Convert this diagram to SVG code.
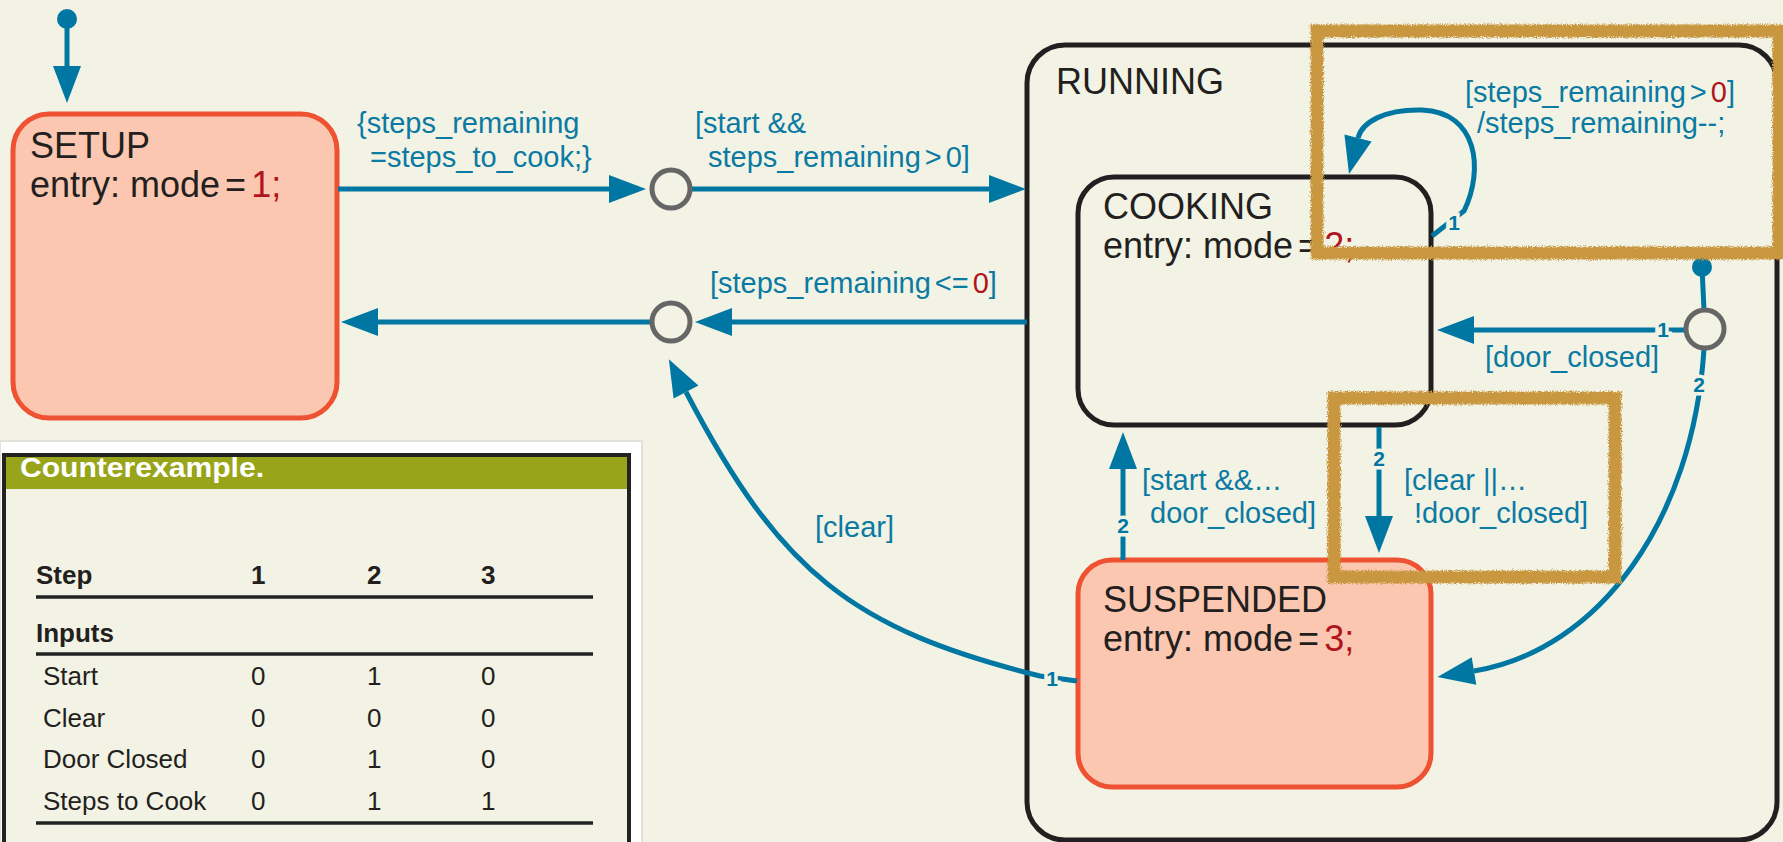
<svg xmlns="http://www.w3.org/2000/svg" width="1783" height="842" viewBox="0 0 1783 842">
<style>
.st{font-family:"Liberation Sans",Arial,sans-serif;font-size:36px;fill:#231f20}
.lb{font-family:"Liberation Sans",Arial,sans-serif;font-size:29px;fill:#0b7aa3}
.red{fill:#b0141c}
.pr{font-family:"Liberation Sans",Arial,sans-serif;font-size:21px;font-weight:bold;fill:#0077a2;stroke:#f2f3e4;stroke-width:7px;paint-order:stroke;text-anchor:middle}
.tr{fill:none;stroke:#0077a2;stroke-width:5}
.jn{fill:#f2f3e4;stroke:#666;stroke-width:5}
.tb{font-family:"Liberation Sans",Arial,sans-serif;font-size:26px;fill:#231f20}
.tbb{font-family:"Liberation Sans",Arial,sans-serif;font-size:26px;font-weight:bold;fill:#231f20}
.hl{fill:none;stroke:#c9973f;stroke-width:13;filter:url(#rough)}
</style>
<defs>
<marker id="ah" markerUnits="userSpaceOnUse" markerWidth="40" markerHeight="30" refX="0" refY="14" orient="auto" overflow="visible"><path d="M0,0 L37,14 L0,28 z" fill="#0077a2"/></marker>
<filter id="rough" x="-5%" y="-5%" width="110%" height="110%"><feTurbulence type="fractalNoise" baseFrequency="0.8" numOctaves="2" seed="3"/><feDisplacementMap in="SourceGraphic" scale="6" xChannelSelector="R" yChannelSelector="G"/></filter>
</defs>
<rect width="1783" height="842" fill="#f2f3e4"/>

<g id="table">
<rect x="0" y="441" width="642" height="410" fill="#ffffff" stroke="#e2e2dc" stroke-width="2"/>
<rect x="4" y="455" width="625" height="400" fill="#f2f3e4" stroke="#222" stroke-width="4"/>
<rect x="6" y="457" width="621" height="32" fill="#98a419"/>
<text x="20" y="477" font-family="Liberation Sans,Arial,sans-serif" font-size="28" font-weight="bold" fill="#fff" textLength="244" lengthAdjust="spacingAndGlyphs">Counterexample.</text>
<text class="tbb" x="36" y="584">Step</text>
<text class="tbb" x="251" y="584">1</text>
<text class="tbb" x="367" y="584">2</text>
<text class="tbb" x="481" y="584">3</text>
<line x1="36" y1="597" x2="593" y2="597" stroke="#222" stroke-width="3.5"/>
<text class="tbb" x="36" y="642">Inputs</text>
<line x1="36" y1="654" x2="593" y2="654" stroke="#222" stroke-width="3.5"/>
<text class="tb" x="43" y="685">Start</text><text class="tb" x="251" y="685">0</text><text class="tb" x="367" y="685">1</text><text class="tb" x="481" y="685">0</text>
<text class="tb" x="43" y="727">Clear</text><text class="tb" x="251" y="727">0</text><text class="tb" x="367" y="727">0</text><text class="tb" x="481" y="727">0</text>
<text class="tb" x="43" y="768">Door Closed</text><text class="tb" x="251" y="768">0</text><text class="tb" x="367" y="768">1</text><text class="tb" x="481" y="768">0</text>
<text class="tb" x="43" y="810">Steps to Cook</text><text class="tb" x="251" y="810">0</text><text class="tb" x="367" y="810">1</text><text class="tb" x="481" y="810">1</text>
<line x1="36" y1="823" x2="593" y2="823" stroke="#222" stroke-width="3.5"/>
</g>

<g id="setup">
<rect x="13" y="114" width="324" height="304" rx="36" fill="#fbc7b0" stroke="#ef5232" stroke-width="5"/>
<text class="st" x="30" y="158">SETUP</text>
<text class="st" x="30" y="197">entry: mode<tspan dx="5">=</tspan><tspan class="red" dx="5">1;</tspan></text>
</g>

<g id="running">
<rect x="1027" y="45" width="750" height="795" rx="38" fill="none" stroke="#231f20" stroke-width="5"/>
<text class="st" x="1056" y="94">RUNNING</text>
</g>

<g id="cooking">
<rect x="1078" y="177" width="353" height="248" rx="36" fill="none" stroke="#231f20" stroke-width="5"/>
<text class="st" x="1103" y="219">COOKING</text>
<text class="st" x="1103" y="258">entry: mode<tspan dx="5">=</tspan><tspan class="red" dx="5">2;</tspan></text>
</g>

<g id="suspended">
<rect x="1078" y="560" width="353" height="227" rx="34" fill="#fbc7b0" stroke="#ef5232" stroke-width="5"/>
<text class="st" x="1103" y="612">SUSPENDED</text>
<text class="st" x="1103" y="651">entry: mode<tspan dx="5">=</tspan><tspan class="red" dx="5">3;</tspan></text>
</g>

<g id="connectors">
<circle cx="67" cy="19" r="10" fill="#0077a2"/>
<path class="tr" d="M67,19 L67,66" marker-end="url(#ah)"/>
<path class="tr" d="M338,189 L609,189" marker-end="url(#ah)"/>
<path class="tr" d="M690,189 L989,189" marker-end="url(#ah)"/>
<path class="tr" d="M1027,322 L732,322" marker-end="url(#ah)"/>
<path class="tr" d="M652,322 L378,322" marker-end="url(#ah)"/>
<path class="tr" d="M1077,681 L1040,676 C851,629 780,572 686,392" marker-end="url(#ah)"/>
<path class="tr" d="M1123,560 L1123,469" marker-end="url(#ah)"/>
<path class="tr" d="M1379,427 L1379,516" marker-end="url(#ah)"/>
<path class="tr" d="M1432,236 L1464,211 C1484,170 1478,112 1422,110 C1385,109 1362,122 1358,138" marker-end="url(#ah)"/>
<circle cx="1702" cy="267" r="10" fill="#0077a2"/>
<path class="tr" d="M1702,267 L1704,310"/>
<path class="tr" d="M1686,330 L1474,330" marker-end="url(#ah)"/>
<path class="tr" d="M1704,349 C1693,520 1600,650 1474,671" marker-end="url(#ah)"/>
<circle class="jn" cx="671" cy="189" r="19"/>
<circle class="jn" cx="671" cy="322" r="19"/>
<circle class="jn" cx="1705" cy="329" r="19"/>
<text class="pr" x="1052" y="686">1</text>
<text class="pr" x="1123" y="533">2</text>
<text class="pr" x="1379" y="466">2</text>
<text class="pr" x="1454" y="230">1</text>
<text class="pr" x="1663" y="337">1</text>
<text class="pr" x="1699" y="392">2</text>
<text class="lb" x="357" y="133">{steps_remaining</text>
<text class="lb" x="370" y="167">=steps_to_cook;}</text>
<text class="lb" x="695" y="133">[start &amp;&amp;</text>
<text class="lb" x="708" y="167">steps_remaining<tspan dx="4">&gt;</tspan><tspan dx="4">0]</tspan></text>
<text class="lb" x="710" y="293">[steps_remaining<tspan dx="4">&lt;=</tspan><tspan class="red" dx="4">0</tspan>]</text>
<text class="lb" x="815" y="537">[clear]</text>
<text class="lb" x="1465" y="102">[steps_remaining<tspan dx="4">&gt;</tspan><tspan class="red" dx="4">0</tspan>]</text>
<text class="lb" x="1477" y="133">/steps_remaining--;</text>
<text class="lb" x="1485" y="367">[door_closed]</text>
<text class="lb" x="1142" y="490">[start &amp;&amp;…</text>
<text class="lb" x="1150" y="523">door_closed]</text>
<text class="lb" x="1404" y="490">[clear ||…</text>
<text class="lb" x="1414" y="523">!door_closed]</text>
</g>

<g id="highlights">
<rect class="hl" x="1317" y="31" width="462" height="222"/>
<rect class="hl" x="1334" y="398" width="281" height="179"/>
</g>
</svg>
